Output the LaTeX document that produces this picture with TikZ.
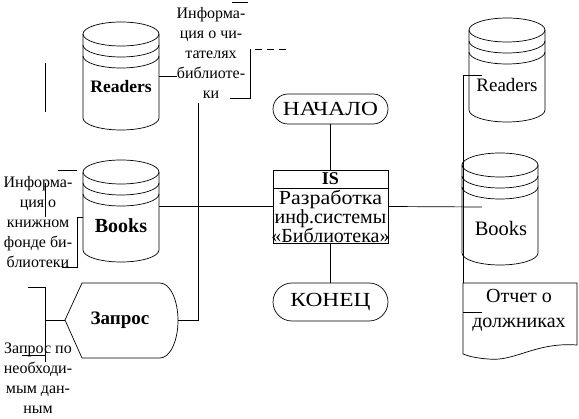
\documentclass[tikz,border=0pt]{standalone}
\usepackage{fontspec}
\setmainfont{Liberation Serif}
\newfontfamily\wideserif{Liberation Serif}[FakeStretch=1.17]
\usetikzlibrary{shapes.misc}

\newcommand\dbcyl[4]{%
  \node[minimum width=76pt, minimum height={(#4-#3)*1pt}] (#1) at (#2,{(#3+#4)/2}) {};
  \draw ({#2},{#3+12}) ellipse [x radius=38, y radius=12];
  \draw ({#2-38},{#3+23}) arc [start angle=180, end angle=0, x radius=38, y radius=12];
  \draw ({#2-38},{#3+34}) arc [start angle=180, end angle=0, x radius=38, y radius=12];
  \draw ({#2-38},{#3+12}) -- ({#2-38},{#4-12}) arc [start angle=180, end angle=0, x radius=38, y radius=12] -- ({#2+38},{#3+12});
}

\begin{document}
\begin{tikzpicture}[x=1pt,y=-1pt, line width=0.7pt,
  every node/.style={inner sep=0pt, outer sep=0pt},
  lbl/.style={font=\fontsize{16}{20}\selectfont, align=center},
  big/.style={font=\fontsize{20}{18.5}\selectfont, align=center},
  bigb/.style={font=\fontsize{19}{18.5}\selectfont\bfseries, align=center},
  term/.style={draw, rounded rectangle, minimum width=115pt, inner sep=0pt, font=\wideserif\fontsize{20}{20}\selectfont},
  dashln/.style={dash pattern=on 7pt off 5pt}]
\useasboundingbox (0,0) rectangle (579,419);

% cylinders
\dbcyl{readL}{121}{22}{130}
\dbcyl{booksL}{121}{160}{262}
\dbcyl{readR}{507}{18}{122}
\dbcyl{booksR}{500}{153}{265}
\node[font=\fontsize{17.5}{17.5}\selectfont\bfseries] (readLt) at (121,87) {Readers};
\node[font=\fontsize{20}{20}\selectfont\bfseries] (booksLt) at (121,226) {Books};
\node[font=\fontsize{19}{19}\selectfont] (readRt) at (507,85) {Readers};
\node[font=\fontsize{20.5}{20}\selectfont] (booksRt) at (501,228) {Books};

% annotations
\node[lbl] (infoR) at (211,53) {Информа-\\ция о чи-\\тателях\\библиоте-\\ки};
\node[lbl] (infoB) at (38,222) {Информа-\\ция о\\книжном\\фонде би-\\блиотеки};
\node[lbl] (infoQ) at (38,378) {Запрос по\\необходи-\\мым дан-\\ным};

% terminals
\node[term, minimum height=30pt] (start) at (330.5,109) {НАЧАЛО};
\node[term, minimum height=38pt] (end) at (330.5,302) {КОНЕЦ};

% IS box
\node[draw, rectangle, minimum width=115pt, minimum height=73pt] (is) at (330.5,206.5) {};
\draw ([yshift=-18pt]is.north west) -- ([yshift=-18pt]is.north east);
\node[font=\fontsize{18}{18}\selectfont\bfseries] (ist) at (330.5,179) {IS};
\node[big] (isb) at (330.5,216.5) {\scalebox{1.1}[1]{Разработка}\\инф.системы\\«Библиотека»};

% Zapros
\draw (65,320) -- (82,283) -- (160,283) arc [start angle=-90, end angle=90, x radius=18, y radius=37.5] -- (82,358) -- cycle;
\node[bigb] (zap) at (120,320) {Запрос};
\coordinate (zapE) at (178,320);
\coordinate (zapW) at (65,320);

% document
\draw (463,283) -- (577,283) -- (577,345) .. controls (535,342) and (515,362) .. (488,359) .. controls (475,358) and (468,356) .. (463,354) -- cycle;
\node[font=\fontsize{20}{25}\selectfont, align=center] (rep) at (519,310) {Отчет о\\должниках};
\coordinate (docTL) at (463,283);
\coordinate (docIn) at (482,312);

% connectors
\draw (readL.east) -- (infoR.west |- readL.east);
\draw (232,2) -- (248,2);
\draw[dashln] (286,49) -- (250,49);
\draw (250,49) -- (250,98) -- (230,98);
\coordinate (q1) at (198,103);
\draw (q1) -- (q1 |- zapE) -- (zapE);
\draw (booksL.east |- is.west) -- (is.west);
\draw (start.south) -- (is.north);
\draw (is.south) -- (end.north);
\coordinate (bRin) at (482,207);
\draw (is.east) -- (bRin);
\coordinate (rRin) at (482,75);
\coordinate (rRv) at (463,75);
\draw (rRin) -- (rRv) -- (docTL);
\draw (docTL |- docIn) -- (docIn);

% left side strokes
\draw (45,63) -- (45,112);
\draw (zapW) -- (45,320);
\draw (28,287) -- (45,287) -- (45,362);
\draw (22,355) -- (45,355);
\draw (58,170) -- (77,170);
\draw (45,183) -- (45,217);
\draw (83,217) -- (77,217) -- (77,267) -- (62,267);
\end{tikzpicture}
\end{document}
